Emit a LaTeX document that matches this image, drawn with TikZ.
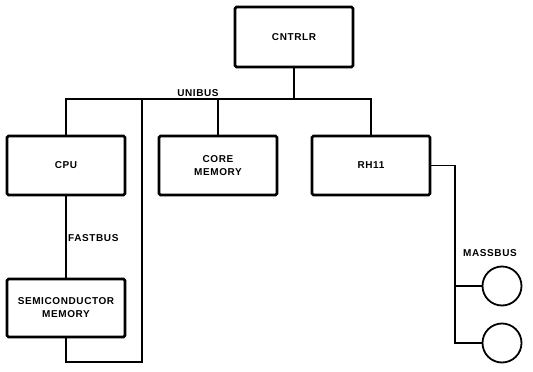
\documentclass[tikz,border=0pt]{standalone}
\usepackage{fontspec}
\setmainfont{Liberation Sans}[LetterSpace=6]
\usepackage{tikz}

\tikzset{
	unit/.style={draw, line width=2.6pt, rounded corners=1.5pt, minimum width=118pt, minimum height=59pt, align=center, font=\fontsize{10}{13}\selectfont\bfseries, inner sep=0pt},
	disk/.style={draw, circle, line width=1.8pt, minimum size=39pt, inner sep=0pt},
	wire/.style={line width=1.2pt},
	buslabel/.style={font=\fontsize{10}{12}\selectfont\bfseries, inner sep=0pt}
}

\begin{document}
\begin{tikzpicture}[x=1pt, y=-1pt]
	\useasboundingbox (0,0) rectangle (533,372);
	
	% Controller
	\node[unit, minimum height=60pt] (cntrlr) at (294,37) {CNTRLR};
	
	% Units on the Unibus
	\node[unit] (cpu) at (66,165.5) {CPU};
	\node[unit] (core) at (218,165.5) {CORE\\MEMORY};
	\node[unit] (rh11) at (371,165.5) {RH11};
	
	% Semiconductor memory
	\node[unit, minimum height=58pt] (semi) at (66,308) {SEMICONDUCTOR\\MEMORY};
	
	% Disks
	\node[disk] (disk1) at (502,286) {};
	\node[disk] (disk2) at (502,343) {};
	
	% Unibus
	\coordinate (busJ) at (142,99);
	\coordinate (loopB) at (142,362);
	\draw[wire] (cpu.north) -- (cpu.north |- busJ) -- (rh11.north |- busJ) -- (rh11.north);
	\draw[wire] (cntrlr.south) -- (cntrlr.south |- busJ);
	\draw[wire] (core.north) -- (core.north |- busJ);
	\node[buslabel] (unibus) at (198,93) {UNIBUS};
	
	% Fastbus
	\draw[wire] (cpu.south) -- (semi.north);
	\node[buslabel, anchor=west] (fastbus) at (68,238) {FASTBUS};
	\draw[wire] (semi.south) |- (loopB) -- (busJ);
	
	% Massbus
	\coordinate (mbBot) at (455,343);
	\draw[wire] (rh11.east) -| (mbBot) -- (disk2.west);
	\draw[wire] (disk1.west) -- (disk1.west -| mbBot);
	\node[buslabel] (massbus) at (490,253) {MASSBUS};
\end{tikzpicture}
\end{document}
